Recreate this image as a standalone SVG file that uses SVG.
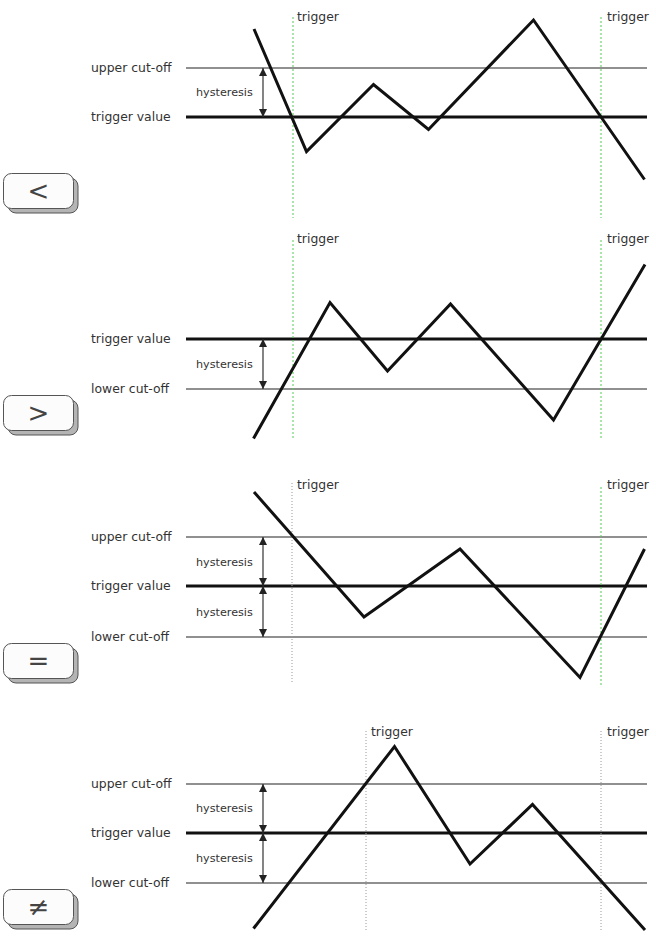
<svg xmlns="http://www.w3.org/2000/svg" width="656" height="945" viewBox="0 0 656 945">
<style>
.lbl{font-family:"DejaVu Sans",sans-serif;font-size:12.4px;fill:#333}
.hy{font-family:"DejaVu Sans",sans-serif;font-size:11.2px;fill:#333}
.thin{stroke:#222;stroke-width:1.1;fill:none}
.thick{stroke:#111;stroke-width:3;fill:none}
.wave{stroke:#111;stroke-width:3;fill:none;stroke-linejoin:miter}
.gtrig{stroke:#5c5;stroke-width:1;stroke-dasharray:2 2;fill:none}
.ytrig{stroke:#999;stroke-width:1;stroke-dasharray:1 2;fill:none}
.arr{stroke:#333;stroke-width:1.2;fill:none;marker-start:url(#ah);marker-end:url(#ah)}
.shadow{fill:#b4b4b4;stroke:#555;stroke-width:1}
.key{fill:#fcfcfc;stroke:#555;stroke-width:1}
.sym{font-family:"DejaVu Sans",sans-serif;font-size:26px;fill:#444;text-anchor:middle}
</style>
<defs>
<marker id="ah" viewBox="0 0 10 10" refX="10" refY="5" markerWidth="8" markerHeight="8" markerUnits="userSpaceOnUse" orient="auto-start-reverse">
<path d="M0,0 L10,5 L0,10 z" fill="#222"/>
</marker>
</defs>

<!-- Panel 1: < -->
<g id="panel-lt">
<line class="thin" x1="186" y1="68" x2="647" y2="68"/>
<line class="thick" x1="186" y1="117" x2="647" y2="117"/>
<line class="gtrig" x1="293" y1="17" x2="293" y2="218"/>
<line class="gtrig" x1="601" y1="17" x2="601" y2="218"/>
<text class="lbl" x="297" y="21">trigger</text>
<text class="lbl" x="607" y="21">trigger</text>
<text class="lbl" x="91" y="72">upper cut-off</text>
<text class="lbl" x="91" y="121">trigger value</text>
<text class="hy" x="196" y="96">hysteresis</text>
<line class="arr" x1="263" y1="68" x2="263" y2="117"/>
<polyline class="wave" points="254,29 306.5,151.5 373.5,84.5 428.5,129.5 533.5,20 644.5,179.5"/>
</g>
<g id="key-lt">
<rect class="shadow" x="8" y="178" width="70" height="35" rx="8"/>
<rect class="key" x="3.5" y="173.5" width="70" height="35" rx="8"/>
<text class="sym" x="38.5" y="200">&lt;</text>
</g>

<!-- Panel 2: > -->
<g id="panel-gt">
<line class="thick" x1="186" y1="339" x2="647" y2="339"/>
<line class="thin" x1="186" y1="389" x2="647" y2="389"/>
<line class="gtrig" x1="293" y1="240" x2="293" y2="439"/>
<line class="gtrig" x1="601" y1="240" x2="601" y2="439"/>
<text class="lbl" x="297" y="243">trigger</text>
<text class="lbl" x="607" y="243">trigger</text>
<text class="lbl" x="91" y="343">trigger value</text>
<text class="lbl" x="91" y="393">lower cut-off</text>
<text class="hy" x="196" y="368">hysteresis</text>
<line class="arr" x1="263" y1="339" x2="263" y2="389"/>
<polyline class="wave" points="253.5,438.5 330,302.5 387.5,371 450.5,304 553.5,420 645,264.5"/>
</g>
<g id="key-gt">
<rect class="shadow" x="8" y="400" width="70" height="35" rx="8"/>
<rect class="key" x="3.5" y="395.5" width="70" height="35" rx="8"/>
<text class="sym" x="38.5" y="422">&gt;</text>
</g>

<!-- Panel 3: = -->
<g id="panel-eq">
<line class="thin" x1="186" y1="537" x2="647" y2="537"/>
<line class="thick" x1="186" y1="586" x2="647" y2="586"/>
<line class="thin" x1="186" y1="637" x2="647" y2="637"/>
<line class="ytrig" x1="292" y1="483" x2="292" y2="684"/>
<line class="gtrig" x1="601" y1="487" x2="601" y2="687"/>
<text class="lbl" x="297" y="489">trigger</text>
<text class="lbl" x="607" y="489">trigger</text>
<text class="lbl" x="91" y="541">upper cut-off</text>
<text class="lbl" x="91" y="590">trigger value</text>
<text class="lbl" x="91" y="641">lower cut-off</text>
<text class="hy" x="196" y="566">hysteresis</text>
<text class="hy" x="196" y="616">hysteresis</text>
<line class="arr" x1="263" y1="537" x2="263" y2="586"/>
<line class="arr" x1="263" y1="586" x2="263" y2="637"/>
<polyline class="wave" points="254,492 364,617 460,549 580,677.5 644.5,549"/>
</g>
<g id="key-eq">
<rect class="shadow" x="8" y="648" width="70" height="35" rx="8"/>
<rect class="key" x="3.5" y="643.5" width="70" height="35" rx="8"/>
<text class="sym" x="38.5" y="670">=</text>
</g>

<!-- Panel 4: ≠ -->
<g id="panel-ne">
<line class="thin" x1="186" y1="784" x2="647" y2="784"/>
<line class="thick" x1="186" y1="833" x2="647" y2="833"/>
<line class="thin" x1="186" y1="883" x2="647" y2="883"/>
<line class="ytrig" x1="366" y1="731" x2="366" y2="930"/>
<line class="ytrig" x1="601" y1="731" x2="601" y2="930"/>
<text class="lbl" x="371" y="736">trigger</text>
<text class="lbl" x="607" y="736">trigger</text>
<text class="lbl" x="91" y="788">upper cut-off</text>
<text class="lbl" x="91" y="837">trigger value</text>
<text class="lbl" x="91" y="887">lower cut-off</text>
<text class="hy" x="196" y="812">hysteresis</text>
<text class="hy" x="196" y="862">hysteresis</text>
<line class="arr" x1="263" y1="784" x2="263" y2="833"/>
<line class="arr" x1="263" y1="833" x2="263" y2="883"/>
<polyline class="wave" points="253.5,928.5 394.5,746.5 470,864 532.5,804.5 645,930"/>
</g>
<g id="key-ne">
<rect class="shadow" x="8" y="894" width="70" height="35" rx="8"/>
<rect class="key" x="3.5" y="889.5" width="70" height="35" rx="8"/>
<text class="sym" x="38.5" y="916">≠</text>
</g>
</svg>
